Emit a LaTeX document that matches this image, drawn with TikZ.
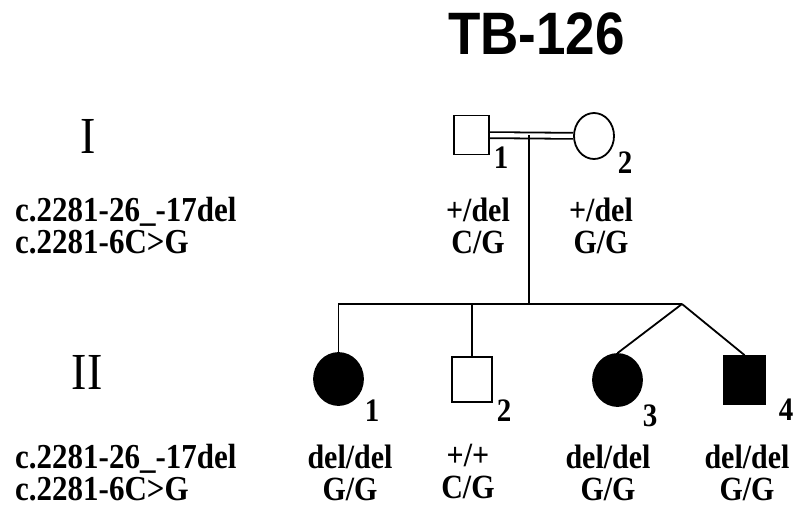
\documentclass[tikz,border=0pt]{standalone}
\usepackage{fontspec}
\setmainfont{Liberation Serif}
\newfontfamily\titlefont{Liberation Sans}
\usetikzlibrary{positioning, shapes.geometric, calc, backgrounds}

\tikzset{
  male/.style={rectangle, draw=black, line width=1.8pt, fill=white,
               minimum width=40pt, minimum height=45pt, inner sep=0pt},
  female/.style={ellipse, draw=black, line width=1.8pt, fill=white,
                 minimum width=49pt, minimum height=52pt, inner sep=0pt},
  affected/.style={fill=black},
  link/.style={line width=1.8pt, line cap=butt},
  tall/.style={yscale=1.13, transform shape},
  geno/.style={tall, font=\fontsize{30}{28.3}\selectfont\bfseries, align=center,
               inner sep=0pt, anchor=north, execute at begin node=\rule{0pt}{21pt}},
  locus/.style={geno, align=left, anchor=north west, font=\fontsize{31}{28.3}\selectfont\bfseries},
  num/.style={tall, font=\fontsize{29}{29}\selectfont\bfseries, inner sep=0pt},
  gen/.style={tall, font=\fontsize{46}{46}\selectfont, inner sep=0pt},
}

\begin{document}
\begin{tikzpicture}[x=1pt, y=-1pt]
  \useasboundingbox (0,0) rectangle (794,506);

  % title
  \node[tall, font=\titlefont\fontsize{53}{53}\selectfont\bfseries, inner sep=0pt] (title) at (536.5,33.5) {TB-126};

  % generation I
  \node[gen] (genI) at (88,136) {I};
  \node[male, minimum width=35pt, minimum height=39pt] (I1) at (471.5,135) {};
  \node[female, minimum width=40pt, minimum height=46pt] (I2) at (594,136) {};
  \node[num] (I1n) at (501,158) {1};
  \node[num] (I2n) at (625,163) {2};

  \node[locus] (lociI) at (15,197.3) {c.2281-26\_-17del\\c.2281-6C>G};
  \node[geno] (I1g) at (478,197.3) {+/del\\C/G};
  \node[geno] (I2g) at (601,197.3) {+/del\\G/G};

  % generation II
  \node[gen] (genII) at (87,372) {II};
  \node[female, affected] (II1) at (338.5,379) {};
  \node[male] (II2) at (472,379.5) {};
  \node[female, affected] (II3) at (617.5,380) {};
  \node[male, affected, minimum width=41pt, minimum height=48pt] (II4) at (744.5,380) {};
  \node[num] (II1n) at (372,411) {1};
  \node[num] (II2n) at (504,411) {2};
  \node[num] (II3n) at (650,416) {3};
  \node[num] (II4n) at (786,410) {4};

  \node[locus] (lociII) at (15,444.3) {c.2281-26\_-17del\\c.2281-6C>G};
  \node[geno] (II1g) at (350,444.3) {del/del\\G/G};
  \node[geno] (II2g) at (468,444.3) {+/+\\C/G};
  \node[geno] (II3g) at (608,444.3) {del/del\\G/G};
  \node[geno] (II4g) at (747,444.3) {del/del\\G/G};

  % lines
  \coordinate (descent) at (529,135);
  \coordinate (sibs) at (529,304);
  \coordinate (twins) at (682,304);
  \begin{scope}[on background layer]
    \draw[link, double, double distance=4.2pt] (I1) -- (I2);
    \draw[link] (descent) -- (sibs);
    \draw[link] (II1) |- (twins);
    \draw[link] (II2) -- (II2 |- sibs);
    \draw[link] (twins) -- (II3.north);
    \draw[link] (twins) -- (II4.north);
  \end{scope}
\end{tikzpicture}
\end{document}
